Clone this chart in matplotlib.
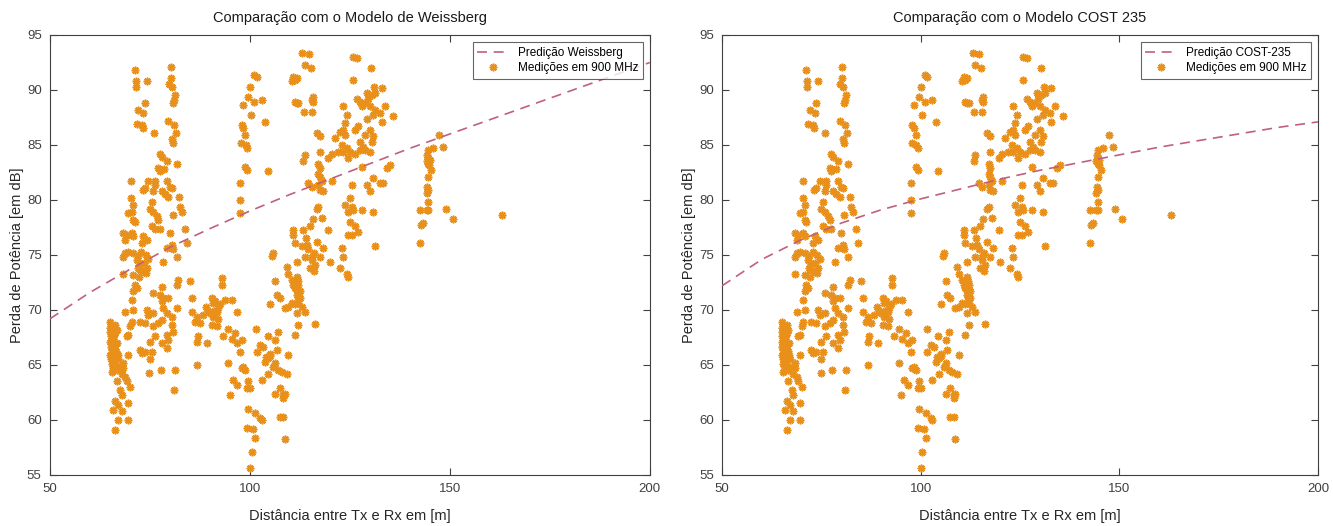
import numpy as np
import matplotlib
matplotlib.use("Agg")
import matplotlib.pyplot as plt

plt.rcParams["font.family"] = ["Liberation Sans", "DejaVu Sans"]

grupo_65m = [
    (65.0, 68.9), (65.4, 68.5), (65.0, 68.0), (66.25, 67.9), (65.8, 67.4), (65.0, 67.1),
    (66.25, 66.8), (65.4, 66.4), (65.0, 65.9), (66.25, 65.8), (67.1, 65.5), (65.8, 65.2),
    (67.5, 64.8), (66.7, 64.5), (68.3, 64.7), (67.9, 64.2), (68.75, 63.9), (66.7, 63.5),
    (69.2, 63.5), (70.0, 63.0), (67.5, 62.7), (67.9, 62.3), (66.25, 61.7), (67.1, 61.4),
    (65.8, 60.9), (67.9, 60.8), (67.1, 60.0), (69.6, 61.5), (69.6, 60.0), (66.25, 59.1),
    (68.3, 65.2), (65.4, 64.4), (66.7, 68.2), (65.5, 66.0), (66.0, 65.0), (65.2, 66.6),
    (66.0, 67.7), (65.6, 68.2), (66.6, 66.3), (65.3, 65.5), (66.4, 64.9), (65.9, 66.9),
    (65.2, 67.6), (66.8, 67.0), (65.7, 66.6), (66.1, 66.0), (65.4, 65.1), (66.5, 65.6),
    (65.8, 64.7), (66.9, 65.9), (65.1, 68.4), (66.3, 68.6),
]
grupo_72m = [
    (70.25, 81.7), (74.6, 81.7), (76.25, 81.7), (73.75, 81.1), (73.2, 80.9), (75.8, 80.8),
    (76.25, 81.4), (70.25, 80.2), (70.8, 79.5), (70.4, 78.9), (69.6, 78.8), (75.4, 79.8),
    (75.0, 79.2), (75.8, 78.9), (76.7, 78.5), (77.1, 78.2), (70.8, 78.2), (71.25, 78.0),
    (75.4, 77.6), (76.25, 77.4), (77.5, 77.4), (68.3, 77.0), (69.2, 76.8), (70.4, 77.0),
    (70.8, 76.7), (68.75, 76.4), (73.3, 76.7), (74.2, 76.4), (72.9, 76.1), (68.75, 75.2),
    (69.6, 75.3), (70.8, 75.2), (68.3, 74.8), (71.7, 74.5), (72.5, 74.2), (74.2, 73.8),
    (72.5, 73.6), (73.3, 73.5), (68.3, 73.3), (78.3, 74.4), (81.7, 74.8), (70.8, 73.2),
    (71.25, 72.3), (71.7, 72.0), (70.8, 71.7), (70.4, 70.9), (75.8, 71.5), (77.9, 72.1),
    (77.5, 71.4), (78.3, 71.1), (77.9, 70.8), (79.6, 71.1), (68.75, 69.8), (70.8, 70.0),
    (74.2, 70.0), (74.6, 69.5), (75.8, 69.7), (78.3, 70.2), (79.2, 69.7), (80.4, 69.4),
    (81.7, 70.2), (72.5, 68.9), (73.75, 68.8), (75.8, 68.5), (77.1, 68.8), (77.9, 69.1),
    (70.4, 68.9), (70.0, 68.5), (69.6, 67.7), (69.2, 67.6), (80.4, 68.6), (80.8, 68.0),
    (79.2, 67.7), (79.6, 67.3), (77.9, 67.0), (79.2, 66.5), (76.25, 67.6), (75.0, 67.1),
    (72.5, 66.4), (73.75, 66.2), (72.9, 66.1), (75.4, 66.2), (75.0, 65.5), (69.6, 65.9),
    (74.8, 64.3), (77.75, 64.5), (81.25, 64.5), (81.0, 62.7), (72.0, 74.9), (72.8, 75.3),
    (73.5, 74.3), (74.0, 75.0), (71.9, 73.8), (73.9, 73.4), (72.2, 73.0), (74.6, 74.6),
]
grupo_78m = [
    (71.25, 91.8), (80.25, 92.1), (71.5, 90.8), (71.5, 90.3), (74.2, 90.8), (80.25, 91.1),
    (79.8, 90.5), (80.4, 90.3), (81.25, 89.5), (81.0, 89.1), (80.8, 88.8), (73.75, 88.8),
    (72.1, 88.2), (73.3, 87.9), (71.7, 86.9), (72.9, 86.8), (73.2, 86.5), (76.0, 86.1),
    (79.6, 87.2), (81.0, 86.8), (81.5, 86.1), (80.4, 85.5), (80.8, 85.2), (77.5, 84.2),
    (77.9, 83.9), (79.2, 83.5), (81.7, 83.3), (77.1, 82.9), (77.5, 82.6), (78.6, 82.8),
    (79.2, 81.7), (80.0, 81.2), (80.4, 81.1), (77.9, 80.8), (78.75, 80.5), (79.6, 80.3),
    (82.25, 80.3), (82.5, 79.4), (82.9, 78.9), (80.8, 78.6), (80.0, 77.0), (83.75, 77.4),
    (84.2, 76.1), (80.4, 75.9), (79.2, 75.6), (80.8, 75.5), (85.0, 72.6),
]
grupo_92m = [
    (82.1, 72.7), (81.7, 72.3), (85.4, 71.1), (85.4, 69.8), (86.7, 69.4), (86.25, 68.9),
    (87.5, 68.8), (87.1, 67.6), (86.7, 67.1), (89.2, 67.0), (86.8, 65.0), (88.3, 69.5),
    (90.0, 69.7), (90.8, 69.4), (91.7, 69.8), (92.1, 69.2), (91.25, 70.8), (92.5, 70.5),
    (90.4, 68.6), (91.7, 68.5), (93.3, 67.6), (90.4, 71.1), (90.8, 70.6), (92.9, 72.9),
    (92.9, 72.3), (93.75, 70.9), (95.4, 70.9), (96.7, 69.8), (94.6, 68.3), (96.25, 67.9),
    (95.4, 67.4), (96.7, 67.0), (97.5, 66.2), (97.9, 67.3), (94.6, 65.2), (95.8, 63.6),
    (96.7, 63.2), (95.0, 62.3), (99.6, 63.5), (100.0, 62.9), (99.2, 62.9), (98.3, 64.8),
    (98.75, 64.5), (97.9, 64.7), (89.5, 69.9), (91.0, 69.9), (92.0, 70.2), (89.0, 70.3),
]
grupo_104m = [
    (101.5, 68.3), (102.5, 66.8), (103.3, 66.6), (101.7, 66.2), (106.7, 66.4), (109.6, 65.9),
    (104.6, 65.6), (103.75, 65.3), (105.0, 65.8), (106.25, 65.2), (105.8, 64.8), (104.6, 64.2),
    (107.1, 64.5), (107.9, 64.4), (109.2, 64.2), (102.9, 63.6), (106.25, 62.4), (107.5, 62.9),
    (108.3, 62.3), (108.75, 62.4), (108.3, 62.0), (99.6, 61.0), (101.25, 60.6), (102.5, 60.2),
    (102.9, 60.0), (99.2, 59.3), (100.8, 59.2), (101.25, 58.4), (100.4, 57.1), (100.0, 55.6),
    (107.5, 60.3), (108.3, 60.3), (108.75, 58.3), (107.1, 68.0), (104.4, 67.6), (106.25, 67.3),
    (105.0, 66.0), (104.0, 65.7),
]
grupo_99m = [
    (101.1, 91.4), (101.7, 91.2), (100.0, 90.3), (99.6, 89.4), (98.3, 88.6), (101.1, 88.9),
    (102.9, 89.1), (100.25, 87.7), (103.75, 87.1), (97.9, 86.8), (98.3, 86.5), (98.75, 85.9),
    (97.75, 85.2), (98.9, 85.0), (99.2, 84.7), (98.75, 83.0), (99.2, 82.7), (104.4, 82.6),
    (97.5, 81.5), (97.5, 80.0), (97.5, 78.8),
]
grupo_114m = [
    (113.1, 93.4), (114.75, 93.3), (113.75, 92.3), (115.25, 92.0), (110.8, 91.2), (111.25, 90.9),
    (110.4, 90.8), (111.7, 91.1), (111.25, 88.9), (111.7, 88.8), (112.1, 88.8), (115.8, 89.4),
    (115.8, 88.9), (115.4, 89.1), (113.5, 88.0), (115.4, 88.0), (116.7, 86.1), (117.5, 85.8),
    (113.75, 84.1), (113.3, 83.5), (117.5, 84.4), (117.1, 83.3), (117.5, 82.9), (117.1, 82.4),
    (117.5, 82.1), (117.9, 81.7), (117.1, 81.4), (117.5, 80.9), (118.3, 80.8), (114.6, 81.5),
    (115.4, 81.2), (120.4, 81.7), (117.1, 79.4), (116.7, 79.2), (115.8, 78.3), (117.9, 78.4),
    (115.0, 77.6), (113.3, 77.3), (119.6, 77.3), (110.8, 77.3), (110.8, 76.8), (111.25, 76.1),
    (112.9, 75.8), (114.2, 75.9), (114.6, 75.5), (118.3, 75.6), (122.9, 75.6), (105.8, 75.2),
    (105.6, 74.9), (111.7, 74.4), (113.75, 74.8), (115.4, 74.5), (116.25, 74.1), (115.0, 73.8),
    (117.5, 74.8), (120.0, 74.4), (123.3, 74.8), (122.5, 73.8), (124.2, 73.3), (124.6, 73.0),
    (109.2, 73.9), (109.6, 73.3), (110.4, 72.7), (111.7, 73.0), (110.8, 72.3), (112.1, 72.3),
    (111.25, 72.0), (112.5, 71.7), (111.7, 71.4), (112.5, 71.1), (112.1, 70.6), (111.25, 70.5),
    (112.9, 70.3), (111.7, 69.7), (113.75, 69.8), (110.4, 70.6), (109.6, 70.3), (108.75, 70.2),
    (106.25, 72.6), (106.7, 71.4), (107.5, 71.1), (105.0, 70.5), (116.25, 68.7), (112.1, 68.6),
    (111.25, 67.7), (116.0, 75.2), (116.7, 76.2), (114.0, 76.5), (115.5, 74.8), (116.0, 73.5),
    (111.5, 71.9), (112.0, 71.2), (111.9, 72.6),
]
grupo_128m = [
    (123.3, 88.5), (124.2, 87.7), (123.75, 87.0), (123.3, 86.4), (122.5, 86.2), (123.75, 85.9),
    (121.25, 85.6), (122.9, 85.0), (124.2, 84.7), (123.3, 84.4), (122.1, 84.4), (120.4, 84.2),
    (119.6, 83.8), (124.6, 83.8), (123.75, 79.5), (124.6, 78.9), (124.6, 76.8), (125.8, 93.0),
    (126.8, 92.9), (130.2, 92.0), (125.8, 90.9), (131.0, 90.3), (132.9, 90.2), (129.2, 89.7),
    (130.4, 89.5), (131.25, 89.7), (126.7, 89.2), (127.5, 88.9), (129.6, 89.2), (128.75, 88.8),
    (127.9, 88.5), (130.0, 88.5), (131.25, 88.2), (130.8, 87.7), (132.5, 87.9), (133.75, 88.5),
    (135.8, 87.6), (129.2, 87.4), (132.9, 87.1), (126.25, 86.4), (127.1, 86.7), (130.0, 86.4),
    (128.75, 85.9), (130.8, 85.8), (127.5, 85.3), (130.4, 85.3), (128.3, 84.8), (127.5, 84.5),
    (128.75, 84.5), (126.25, 84.2), (130.0, 84.4), (125.0, 84.4), (127.9, 83.0), (134.2, 82.9),
    (135.0, 83.2), (130.8, 82.0), (129.2, 81.4), (132.5, 81.5), (133.3, 81.5), (125.4, 81.4),
    (130.0, 80.8), (125.0, 80.2), (125.4, 79.4), (125.8, 79.1), (127.9, 79.1), (130.8, 78.9),
    (125.0, 78.0), (126.25, 77.6), (125.4, 76.8), (127.1, 77.1), (131.25, 75.8),
]
grupo_144m = [
    (144.6, 84.5), (145.8, 84.7), (144.3, 84.1), (144.6, 83.8), (145.0, 83.6), (144.2, 83.5),
    (144.6, 83.3), (144.8, 83.2), (145.4, 82.7), (144.6, 82.1), (144.3, 81.2), (144.6, 80.9),
    (144.2, 80.6), (144.6, 79.8), (144.6, 79.1), (142.5, 79.1), (144.2, 79.1), (143.3, 77.9),
    (142.9, 77.7), (142.5, 76.1), (147.3, 85.9), (148.3, 84.8), (149.0, 79.2), (150.7, 78.3),
    (163.0, 78.6),
]

# Curvas dos modelos
dist_modelo = [50, 60, 70, 80, 90, 100, 110, 120, 130, 140, 150, 160, 170, 180, 190, 200]
perda_weissberg = [69.2, 71.6, 73.7, 75.7, 77.4, 79.0, 80.5, 81.9, 83.3, 84.7,
                   86.0, 87.3, 88.6, 89.9, 91.2, 92.5]
perda_cost235 = [72.2, 74.6, 76.4, 77.9, 79.1, 80.1, 81.0, 81.9, 82.7, 83.4,
                 84.1, 84.8, 85.4, 86.0, 86.6, 87.1]

medicoes = np.array(grupo_65m + grupo_72m + grupo_78m + grupo_92m + grupo_104m
                    + grupo_99m + grupo_114m + grupo_128m + grupo_144m)
dist, perda = medicoes[:, 0], medicoes[:, 1]

cor_med = "#E8901A"
cor_mod = "#C0607F"
cor_eixo = "#404040"

fig = plt.figure(figsize=(13.33, 5.26), dpi=100)
ax1 = fig.add_axes([0.0375, 0.097, 0.450, 0.8365])
ax2 = fig.add_axes([0.5417, 0.097, 0.447, 0.8365])

paineis = [
    (ax1, perda_weissberg, "Predição Weissberg", "Comparação com o Modelo de Weissberg"),
    (ax2, perda_cost235, "Predição COST-235", "Comparação com o Modelo COST 235"),
]

for ax, curva, nome, titulo in paineis:
    ax.plot(dist_modelo, curva, "--", color=cor_mod, lw=1.2, dashes=(6, 4),
            label=nome, zorder=3)
    ax.plot(dist, perda, linestyle="none", marker=(8, 2, 0), ms=5.5, mew=1.2,
            color=cor_med, label="Medições em 900 MHz", zorder=2)
    ax.set_xlim(50, 200)
    ax.set_ylim(55, 95)
    ax.set_xticks([50, 100, 150, 200])
    ax.set_yticks(np.arange(55, 96, 5))
    ax.tick_params(direction="in", top=True, right=True, length=5, pad=6,
                   labelsize=9.5, colors=cor_eixo, width=0.8)
    for s in ax.spines.values():
        s.set_color(cor_eixo)
        s.set_linewidth(0.8)
    ax.set_title(titulo, fontsize=10.5, color="#1a1a1a", pad=9)
    ax.set_xlabel("Distância entre Tx e Rx em [m]", fontsize=10.5, color="#262626",
                  labelpad=10)
    ax.set_ylabel("Perda de Potência [em dB]", fontsize=10.5, color="#262626",
                  labelpad=2)
    leg = ax.legend(loc="upper right", fontsize=8.5, frameon=True, fancybox=False,
                    edgecolor=cor_eixo, borderaxespad=0.6, handlelength=2.6,
                    borderpad=0.4, labelspacing=0.3)
    leg.get_frame().set_linewidth(0.8)

fig.savefig("out.png", dpi=100)
